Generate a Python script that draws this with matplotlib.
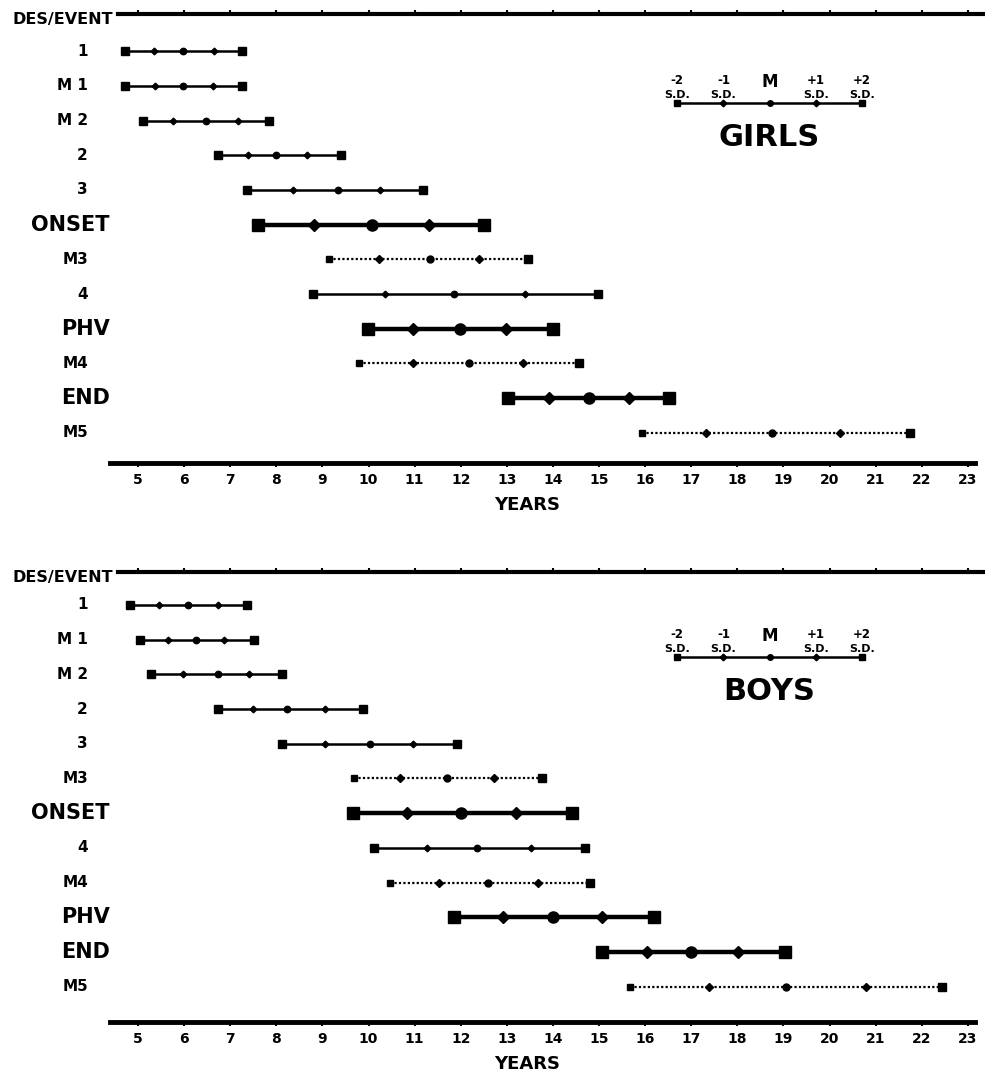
import numpy as np
import matplotlib.pyplot as plt

plt.rcParams['font.family'] = 'DejaVu Sans'
plt.rcParams['font.weight'] = 'bold'

# events, top to bottom, and the ages (years) at -2SD, -1SD, M, +1SD, +2SD
girls_events = ['1', 'M 1', 'M 2', '2', '3', 'ONSET', 'M3', '4', 'PHV', 'M4', 'END', 'M5']
girls_ages = [
    [4.72, 5.35, 5.98, 6.65, 7.26],
    [4.72, 5.37, 5.98, 6.63, 7.26],
    [5.11, 5.76, 6.48, 7.17, 7.84],
    [6.74, 7.39, 7.99, 8.67, 9.40],
    [7.36, 8.36, 9.34, 10.25, 11.18],
    [7.60, 8.82, 10.08, 11.31, 12.51],
    [9.14, 10.23, 11.33, 12.40, 13.46],
    [8.80, 10.36, 11.85, 13.39, 14.98],
    [9.99, 10.97, 11.98, 12.98, 14.00],
    [9.79, 10.97, 12.18, 13.35, 14.57],
    [13.03, 13.92, 14.78, 15.65, 16.52],
    [15.93, 17.32, 18.75, 20.23, 21.75],
]

boys_events = ['1', 'M 1', 'M 2', '2', '3', 'M3', 'ONSET', '4', 'M4', 'PHV', 'END', 'M5']
boys_ages = [
    [4.83, 5.46, 6.08, 6.74, 7.36],
    [5.04, 5.65, 6.26, 6.87, 7.52],
    [5.28, 5.98, 6.74, 7.41, 8.12],
    [6.74, 7.49, 8.23, 9.06, 9.88],
    [8.12, 9.06, 10.03, 10.97, 11.92],
    [9.69, 10.68, 11.70, 12.72, 13.76],
    [9.66, 10.84, 12.01, 13.20, 14.41],
    [10.12, 11.27, 12.35, 13.53, 14.70],
    [10.47, 11.53, 12.59, 13.68, 14.80],
    [11.85, 12.92, 14.00, 15.07, 16.19],
    [15.07, 16.04, 16.99, 18.02, 19.03],
    [15.67, 17.39, 19.06, 20.79, 22.44],
]

years = list(range(5, 24))
key_ages = [16.7, 17.7, 18.7, 19.7, 20.7]
key_signs = ['-2', '-1', 'M', '+1', '+2']

big = ['ONSET', 'PHV', 'END']
dotted = ['M3', 'M4', 'M5']
shapes = ['s', 'D', 'o', 'D', 's']

# pixel geometry of the page: x px = 138 + 46.1 * (age - 5)
xmin = 5 - 138 / 46.1
xmax = 5 + 847 / 46.1


def draw_row(ax, xs, y, kind):
    if kind == 'big':
        ax.plot(xs, [y] * 5, color='black', lw=3.2, solid_capstyle='butt', zorder=2)
        sizes = [9, 6, 8, 6, 9]
    elif kind == 'dotted':
        ax.plot(xs, [y] * 5, color='black', lw=1.6, ls=(0, (1, 1)), zorder=2)
        sizes = [5, 3.6, 5, 3.6, 5.5]
    else:
        ax.plot(xs, [y] * 5, color='black', lw=1.8, zorder=2)
        sizes = [5.5, 3.4, 4.6, 3.4, 5.5]
    for x, m, s in zip(xs, shapes, sizes):
        ax.plot(x, y, marker=m, ms=s, color='black', mec='black', zorder=3)


def panel(ax, events, ages, title, ylim):
    ax.set_xlim(xmin, xmax)
    ax.set_ylim(*ylim)
    ax.set_facecolor('none')
    for s in ['left', 'right']:
        ax.spines[s].set_visible(False)
    ax.spines['top'].set_linewidth(3)
    ax.spines['top'].set_bounds(4.57, xmax)
    ax.spines['bottom'].set_linewidth(3.5)
    ax.spines['bottom'].set_bounds(4.39, 23.16)
    ax.set_yticks([])
    ax.set_xticks(years)
    ax.set_xticklabels([str(y) for y in years], fontsize=10, fontweight='bold')
    ax.tick_params(axis='x', top=True, labeltop=False, direction='out',
                   length=3, width=1.5, pad=4)
    ax.set_xlabel('YEARS', fontsize=13, fontweight='bold')
    ax.xaxis.set_label_coords(527 / 985, -0.074)

    tr = ax.get_yaxis_transform()
    ax.text(113 / 985, ylim[1] + 0.17, 'DES/EVENT', transform=tr, ha='right',
            va='center', fontsize=11.5, fontweight='bold')

    for i, (ev, xs) in enumerate(zip(events, ages)):
        if ev in big:
            kind = 'big'
            ax.text(110 / 985, i, ev, transform=tr, ha='right', va='center',
                    fontsize=15, fontweight='bold')
        else:
            kind = 'dotted' if ev in dotted else 'normal'
            ax.text(88 / 985, i, ev, transform=tr, ha='right', va='center',
                    fontsize=11, fontweight='bold')
        draw_row(ax, xs, i, kind)

    # key
    ky = 1.5
    ax.plot(key_ages, [ky] * 5, color='black', lw=1.8, zorder=2)
    for x, m, s, lab in zip(key_ages, shapes, [5, 3.4, 4, 3.4, 5], key_signs):
        ax.plot(x, ky, marker=m, ms=s, color='black', zorder=3)
        if lab == 'M':
            ax.annotate('M', (x, ky), xytext=(0, 9), textcoords='offset points',
                        ha='center', va='bottom', fontsize=12, fontweight='bold')
        else:
            ax.annotate('S.D.', (x, ky), xytext=(0, 2.5), textcoords='offset points',
                        ha='center', va='bottom', fontsize=8, fontweight='bold')
            ax.annotate(lab, (x, ky), xytext=(0, 11.5), textcoords='offset points',
                        ha='center', va='bottom', fontsize=8.5, fontweight='bold')
    ax.text(key_ages[2], 2.48, title, ha='center', va='center',
            fontsize=22, fontweight='bold')


fig = plt.figure(figsize=(9.85, 10.73), dpi=100)
ax1 = fig.add_axes([0, 1 - 463 / 1073, 1, 449 / 1073])
ax2 = fig.add_axes([0, 1 - 1022 / 1073, 1, 450 / 1073])

panel(ax1, girls_events, girls_ages, 'GIRLS', (11.87, -1.07))
panel(ax2, boys_events, boys_ages, 'BOYS', (12.02, -0.95))

fig.savefig('out.png', dpi=100)
